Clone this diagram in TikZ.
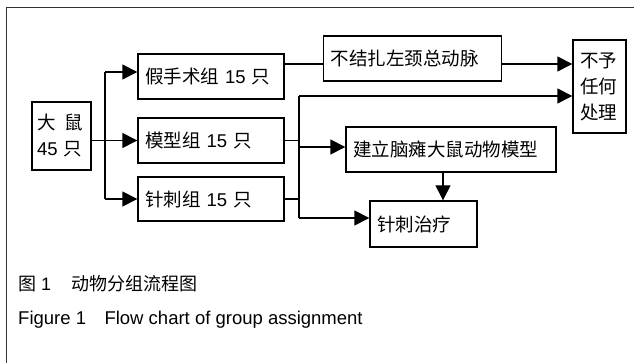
\documentclass[tikz,border=0pt]{standalone}
\usepackage{fontspec}
\setmainfont{Liberation Sans}
\newfontfamily\cjk{Noto Sans CJK SC}
\usetikzlibrary{arrows.meta,calc}
\begin{document}
\begin{tikzpicture}[x=1pt,y=-1pt,
  box/.style={draw, line width=1.4pt, inner xsep=7pt, inner ysep=0pt, align=left,
              font=\fontsize{18.5}{26}\selectfont},
  conn/.style={line width=1.4pt},
  arr/.style={conn, -{Triangle[length=15pt,width=15pt]}},
  captxt/.style={anchor=west, inner sep=0pt}]
\useasboundingbox (0,0) rectangle (634,363);
\draw[line width=0.9pt, black!80] (6,363) -- (6,7) -- (634,7);

\node[box, inner xsep=5pt, text width=49pt, minimum height=68pt] (rat) at (61.5,136)
  {{\cjk 大\hspace{0.5em}鼠}\\45 {\cjk 只}};
\node[box, text width=132pt, minimum height=45pt] (sham) at (211,76.5) {{\cjk 假手术组} 15 {\cjk 只}};
\node[box, text width=132pt, minimum height=45pt] (model) at (211,140.5) {{\cjk 模型组} 15 {\cjk 只}};
\node[box, text width=132pt, minimum height=44pt] (acu) at (211,199) {{\cjk 针刺组} 15 {\cjk 只}};
\node[box, text width=164pt, minimum height=45pt] (nolig) at (412.5,58.5) {\cjk 不结扎左颈总动脉};
\node[box, text width=39pt, minimum height=93pt] (none) at (599.5,86.5) {\cjk 不予\\任何\\处理};
\node[box, text width=196pt, minimum height=45pt] (model2) at (451,149.5) {\cjk 建立脑瘫大鼠动物模型};
\node[box, text width=93pt, minimum height=46pt] (treat) at (423.5,224) {\cjk 针刺治疗};

\coordinate (j1) at (105,72);
\coordinate (j3) at (105,199);
\draw[conn] (j1) -- (j3);
\draw[arr] (j1) -- (j1 -| sham.west);
\draw[arr] (rat.east |- model.west) -- (model.west);
\draw[arr] (j3) -- (j3 -| acu.west);

\coordinate (t) at (0,64);
\draw[conn] (sham.east |- t) -- (nolig.west |- t);
\draw[arr] (nolig.east |- t) -- (none.west |- t);

\coordinate (k1) at (299,96);
\coordinate (k2) at (299,147);
\coordinate (k3) at (299,218);
\draw[conn] (k1) -- (k3);
\draw[conn] (model.east) -- (model.east -| k1);
\draw[conn] (acu.east) -- (acu.east -| k1);
\draw[arr] (k1) -- (k1 -| none.west);
\draw[arr] (k2) -- (k2 -| model2.west);
\draw[arr] (k3) -- (k3 -| treat.west);
\coordinate (v) at (443,0);
\draw[arr] (model2.south -| v) -- (treat.north -| v);

\node[captxt, font=\fontsize{18}{20}\selectfont] (cap1) at (18,284)
  {{\cjk 图} 1\hspace{1.1em}{\cjk 动物分组流程图}};
\node[captxt, font=\fontsize{18.5}{22}\selectfont] (cap2) at (18,320)
  {Figure 1\hspace{1em}Flow chart of group assignment};
\end{tikzpicture}
\end{document}
